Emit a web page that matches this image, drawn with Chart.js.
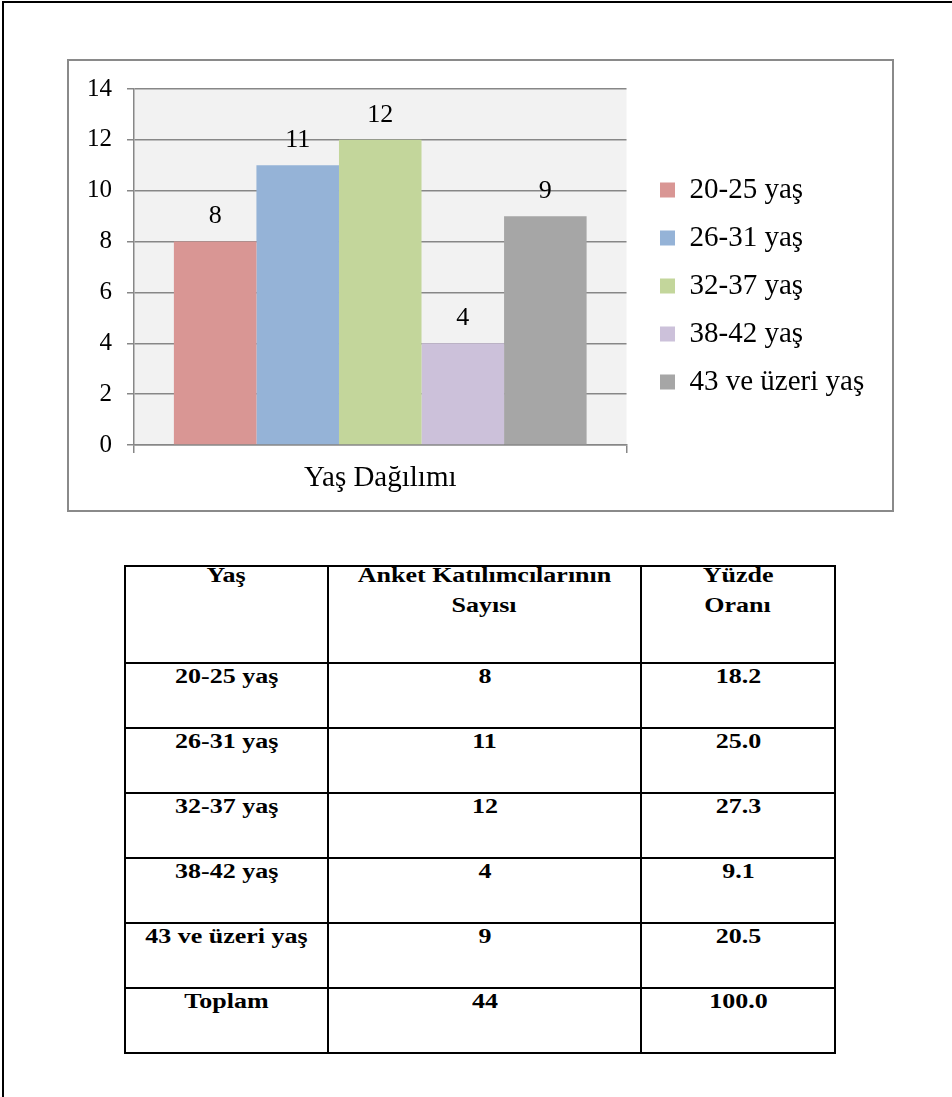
<!DOCTYPE html>
<html lang="tr">
<head>
<meta charset="utf-8">
<title>Yaş Dağılımı</title>
<script src="https://cdn.jsdelivr.net/npm/chart.js@4.4.1/dist/chart.umd.min.js"></script>
<style>
  html, body { margin: 0; padding: 0; background: #fff; }
  body { width: 952px; height: 1097px; position: relative; overflow: hidden;
         font-family: "Liberation Serif", "Times New Roman", serif; }
  #page { position: absolute; left: 2px; top: 1px; width: 960px; height: 1110px;
          border-top: 2px solid #000; border-left: 2px solid #000; }
  #chartFrame { position: absolute; left: 67px; top: 59px; width: 827px; height: 453px;
                box-sizing: border-box; border: 2px solid #8a8a8a; background: #fff; }
  #chartCanvas { position: absolute; left: 67px; top: 59px; }
  #ageTable { position: absolute; left: 124px; top: 565px; border-collapse: collapse;
              table-layout: fixed; font-weight: bold; font-size: 20px; color: #000; }
  #ageTable td, #ageTable th { border: 2px solid #000; padding: 0; text-align: center;
                               vertical-align: top; font-weight: bold; }
  #ageTable th { height: 95px; line-height: 30px; }
  #ageTable td { height: 63px; line-height: 24px; }
  #ageTable th .w { position: relative; top: -7px; }
  .w { display: inline-block; transform: scaleX(1.3); white-space: nowrap; }
</style>
</head>
<body>
<div id="page"></div>
<div id="chartFrame"></div>
<canvas id="chartCanvas" width="827" height="453"></canvas>
<table id="ageTable">
  <colgroup><col style="width:203px"><col style="width:313px"><col style="width:194px"></colgroup>
  <thead><tr id="headRow"></tr></thead>
  <tbody id="tableBody"></tbody>
</table>
<script>
// Survey participants by age group
const categories = ['Yaş Dağılımı'];
const ageGroups = ['20-25 yaş', '26-31 yaş', '32-37 yaş', '38-42 yaş', '43 ve üzeri yaş'];
const counts = [8, 11, 12, 4, 9];
const percents = ['18.2', '25.0', '27.3', '9.1', '20.5'];
const totalLabel = 'Toplam';
const totalPercent = '100.0';
const headers = ['Yaş', 'Anket Katılımcılarının\nSayısı', 'Yüzde\nOranı'];
const yMin = 0, yMax = 14, yStep = 2;
const barColors = ['#d99694', '#95b3d7', '#c3d69b', '#ccc1da', '#a6a6a6'];

const axisGray = '#878787';
const serif = '"Liberation Serif", "Times New Roman", serif';

// light grey plot background
const plotBackground = {
  id: 'plotBackground',
  beforeDraw(chart) {
    const { ctx, chartArea: a } = chart;
    ctx.save();
    ctx.fillStyle = '#f2f2f2';
    ctx.fillRect(a.left, a.top, a.right - a.left, a.bottom - a.top);
    ctx.restore();
  }
};

// value printed above each bar
const valueLabels = {
  id: 'valueLabels',
  afterDatasetsDraw(chart) {
    const ctx = chart.ctx;
    ctx.save();
    ctx.font = '26px ' + serif;
    ctx.fillStyle = '#000';
    ctx.textAlign = 'center';
    ctx.textBaseline = 'middle';
    chart.data.datasets.forEach((ds, i) => {
      chart.getDatasetMeta(i).data.forEach((bar, j) => {
        ctx.fillText(String(ds.data[j]), bar.x, bar.y - 25);
      });
    });
    ctx.restore();
  }
};

// legend column: fixed width, items placed a little right of the plot
const legendWidth = 267.5;
const legendLeft = 574;
const legendPlacement = {
  id: 'legendPlacement',
  afterInit(chart) {
    const lg = chart.legend;
    const fit = lg.fit.bind(lg);
    lg.fit = function () { fit(); this.width = legendWidth; };
  },
  afterLayout(chart) {
    const lg = chart.legend;
    lg.left = legendLeft;
    lg.right = legendLeft + lg.width;
  }
};

new Chart(document.getElementById('chartCanvas'), {
  type: 'bar',
  data: {
    labels: categories,
    datasets: ageGroups.map((g, i) => ({
      label: g,
      data: [counts[i]],
      backgroundColor: barColors[i],
      borderWidth: 0,
      barPercentage: 1,
      categoryPercentage: 0.838
    }))
  },
  options: {
    responsive: false,
    animation: false,
    devicePixelRatio: 1,
    layout: { padding: { left: 0, top: 15, right: 0, bottom: 14 } },
    plugins: {
      legend: {
        position: 'right',
        align: 'center',
        labels: {
          font: { family: serif, size: 29 },
          color: '#000',
          boxWidth: 15,
          boxHeight: 15,
          padding: 19
        }
      },
      tooltip: { enabled: false }
    },
    scales: {
      x: {
        offset: true,
        grid: { offset: true, drawOnChartArea: false, drawTicks: true, tickLength: 8,
                color: axisGray, lineWidth: 1.5 },
        border: { display: true, color: axisGray, width: 1.5 },
        ticks: { font: { family: serif, size: 29 }, color: '#000', padding: 8 },
        afterFit(s) { s.height = 53; }
      },
      y: {
        min: yMin,
        max: yMax,
        grid: { color: axisGray, lineWidth: 1.5, tickLength: 7 },
        border: { display: true, color: axisGray, width: 1.5 },
        ticks: { stepSize: yStep, font: { family: serif, size: 25 }, color: '#000', padding: 15 },
        afterFit(s) { s.width = 67; }
      }
    }
  },
  plugins: [plotBackground, valueLabels, legendPlacement]
});

// summary table
function cellHTML(text) {
  return text.split('\n').map(t => '<span class="w">' + t + '</span>').join('<br>');
}
const headRow = document.getElementById('headRow');
headers.forEach(h => {
  const th = document.createElement('th');
  th.innerHTML = cellHTML(h);
  headRow.appendChild(th);
});
const body = document.getElementById('tableBody');
const rows = ageGroups.map((g, i) => [g, String(counts[i]), percents[i]]);
rows.push([totalLabel, String(counts.reduce((a, b) => a + b, 0)), totalPercent]);
rows.forEach(r => {
  const tr = document.createElement('tr');
  r.forEach(v => {
    const td = document.createElement('td');
    td.innerHTML = cellHTML(v);
    tr.appendChild(td);
  });
  body.appendChild(tr);
});
</script>
</body>
</html>
